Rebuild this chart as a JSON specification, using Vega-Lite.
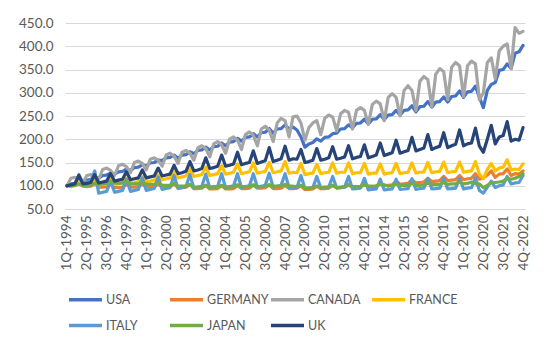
{
"$schema": "https://vega.github.io/schema/vega-lite/v6.json",
"width": 460, "height": 186,
"autosize": {"type": "none"},
"padding": {"left": 65, "top": 23, "right": 25, "bottom": 144},
"background": "white",
"data": {"values": [
{"q":"1Q-1994","USA":100,"GERMANY":100,"CANADA":100,"FRANCE":100,"ITALY":100,"JAPAN":100,"UK":100},
{"q":"2Q-1994","USA":104,"GERMANY":99,"CANADA":116,"FRANCE":101,"ITALY":102,"JAPAN":100,"UK":102},
{"q":"3Q-1994","USA":105,"GERMANY":100,"CANADA":118,"FRANCE":102,"ITALY":104,"JAPAN":101,"UK":104},
{"q":"4Q-1994","USA":109,"GERMANY":106,"CANADA":114,"FRANCE":110,"ITALY":124,"JAPAN":104,"UK":122},
{"q":"1Q-1995","USA":107,"GERMANY":99,"CANADA":106,"FRANCE":101,"ITALY":106,"JAPAN":101,"UK":104},
{"q":"2Q-1995","USA":112,"GERMANY":98,"CANADA":122,"FRANCE":102,"ITALY":108,"JAPAN":101,"UK":105},
{"q":"3Q-1995","USA":113,"GERMANY":99,"CANADA":124,"FRANCE":103,"ITALY":110,"JAPAN":102,"UK":107},
{"q":"4Q-1995","USA":117,"GERMANY":105,"CANADA":120,"FRANCE":112,"ITALY":132,"JAPAN":105,"UK":124},
{"q":"1Q-1996","USA":117,"GERMANY":97,"CANADA":114,"FRANCE":102,"ITALY":84,"JAPAN":103,"UK":106},
{"q":"2Q-1996","USA":122,"GERMANY":97,"CANADA":135,"FRANCE":103,"ITALY":86,"JAPAN":104,"UK":108},
{"q":"3Q-1996","USA":123,"GERMANY":98,"CANADA":138,"FRANCE":104,"ITALY":88,"JAPAN":105,"UK":110},
{"q":"4Q-1996","USA":127,"GERMANY":104,"CANADA":133,"FRANCE":114,"ITALY":110,"JAPAN":109,"UK":126},
{"q":"1Q-1997","USA":125,"GERMANY":96,"CANADA":122,"FRANCE":103,"ITALY":86,"JAPAN":106,"UK":110},
{"q":"2Q-1997","USA":130,"GERMANY":96,"CANADA":143,"FRANCE":104,"ITALY":88,"JAPAN":105,"UK":112},
{"q":"3Q-1997","USA":131,"GERMANY":97,"CANADA":146,"FRANCE":106,"ITALY":90,"JAPAN":106,"UK":114},
{"q":"4Q-1997","USA":136,"GERMANY":103,"CANADA":141,"FRANCE":116,"ITALY":114,"JAPAN":110,"UK":130},
{"q":"1Q-1998","USA":133,"GERMANY":97,"CANADA":128,"FRANCE":106,"ITALY":88,"JAPAN":104,"UK":113},
{"q":"2Q-1998","USA":139,"GERMANY":97,"CANADA":150,"FRANCE":107,"ITALY":90,"JAPAN":104,"UK":115},
{"q":"3Q-1998","USA":140,"GERMANY":98,"CANADA":153,"FRANCE":109,"ITALY":92,"JAPAN":104,"UK":117},
{"q":"4Q-1998","USA":145,"GERMANY":104,"CANADA":148,"FRANCE":120,"ITALY":117,"JAPAN":108,"UK":134},
{"q":"1Q-1999","USA":143,"GERMANY":97,"CANADA":134,"FRANCE":109,"ITALY":90,"JAPAN":103,"UK":117},
{"q":"2Q-1999","USA":149,"GERMANY":97,"CANADA":157,"FRANCE":110,"ITALY":92,"JAPAN":103,"UK":119},
{"q":"3Q-1999","USA":150,"GERMANY":98,"CANADA":160,"FRANCE":112,"ITALY":94,"JAPAN":103,"UK":121},
{"q":"4Q-1999","USA":155,"GERMANY":104,"CANADA":155,"FRANCE":124,"ITALY":119,"JAPAN":107,"UK":138},
{"q":"1Q-2000","USA":154,"GERMANY":97,"CANADA":142,"FRANCE":113,"ITALY":92,"JAPAN":101,"UK":121},
{"q":"2Q-2000","USA":160,"GERMANY":97,"CANADA":166,"FRANCE":115,"ITALY":94,"JAPAN":101,"UK":123},
{"q":"3Q-2000","USA":161,"GERMANY":98,"CANADA":170,"FRANCE":117,"ITALY":96,"JAPAN":101,"UK":125},
{"q":"4Q-2000","USA":166,"GERMANY":104,"CANADA":164,"FRANCE":130,"ITALY":122,"JAPAN":105,"UK":144},
{"q":"1Q-2001","USA":159,"GERMANY":96,"CANADA":148,"FRANCE":117,"ITALY":94,"JAPAN":99,"UK":126},
{"q":"2Q-2001","USA":166,"GERMANY":96,"CANADA":172,"FRANCE":119,"ITALY":96,"JAPAN":99,"UK":128},
{"q":"3Q-2001","USA":167,"GERMANY":97,"CANADA":176,"FRANCE":121,"ITALY":98,"JAPAN":99,"UK":131},
{"q":"4Q-2001","USA":173,"GERMANY":103,"CANADA":170,"FRANCE":136,"ITALY":124,"JAPAN":103,"UK":152},
{"q":"1Q-2002","USA":169,"GERMANY":94,"CANADA":155,"FRANCE":120,"ITALY":95,"JAPAN":97,"UK":132},
{"q":"2Q-2002","USA":176,"GERMANY":94,"CANADA":182,"FRANCE":122,"ITALY":97,"JAPAN":97,"UK":134},
{"q":"3Q-2002","USA":177,"GERMANY":95,"CANADA":186,"FRANCE":124,"ITALY":99,"JAPAN":97,"UK":137},
{"q":"4Q-2002","USA":183,"GERMANY":101,"CANADA":180,"FRANCE":140,"ITALY":125,"JAPAN":101,"UK":160},
{"q":"1Q-2003","USA":177,"GERMANY":93,"CANADA":162,"FRANCE":122,"ITALY":96,"JAPAN":97,"UK":137},
{"q":"2Q-2003","USA":184,"GERMANY":93,"CANADA":190,"FRANCE":124,"ITALY":98,"JAPAN":97,"UK":139},
{"q":"3Q-2003","USA":185,"GERMANY":94,"CANADA":195,"FRANCE":126,"ITALY":99,"JAPAN":97,"UK":142},
{"q":"4Q-2003","USA":192,"GERMANY":100,"CANADA":188,"FRANCE":143,"ITALY":126,"JAPAN":101,"UK":166},
{"q":"1Q-2004","USA":186,"GERMANY":93,"CANADA":170,"FRANCE":125,"ITALY":96,"JAPAN":97,"UK":142},
{"q":"2Q-2004","USA":194,"GERMANY":93,"CANADA":200,"FRANCE":127,"ITALY":98,"JAPAN":97,"UK":144},
{"q":"3Q-2004","USA":195,"GERMANY":94,"CANADA":205,"FRANCE":129,"ITALY":100,"JAPAN":98,"UK":147},
{"q":"4Q-2004","USA":202,"GERMANY":100,"CANADA":198,"FRANCE":147,"ITALY":126,"JAPAN":102,"UK":172},
{"q":"1Q-2005","USA":196,"GERMANY":94,"CANADA":178,"FRANCE":126,"ITALY":96,"JAPAN":98,"UK":145},
{"q":"2Q-2005","USA":204,"GERMANY":94,"CANADA":210,"FRANCE":128,"ITALY":98,"JAPAN":98,"UK":148},
{"q":"3Q-2005","USA":205,"GERMANY":95,"CANADA":216,"FRANCE":130,"ITALY":100,"JAPAN":98,"UK":150},
{"q":"4Q-2005","USA":212,"GERMANY":101,"CANADA":208,"FRANCE":149,"ITALY":126,"JAPAN":102,"UK":175},
{"q":"1Q-2006","USA":205,"GERMANY":95,"CANADA":186,"FRANCE":127,"ITALY":97,"JAPAN":98,"UK":148},
{"q":"2Q-2006","USA":214,"GERMANY":95,"CANADA":222,"FRANCE":129,"ITALY":99,"JAPAN":98,"UK":151},
{"q":"3Q-2006","USA":215,"GERMANY":96,"CANADA":228,"FRANCE":131,"ITALY":101,"JAPAN":98,"UK":154},
{"q":"4Q-2006","USA":223,"GERMANY":102,"CANADA":220,"FRANCE":150,"ITALY":127,"JAPAN":102,"UK":182},
{"q":"1Q-2007","USA":213,"GERMANY":94,"CANADA":195,"FRANCE":128,"ITALY":97,"JAPAN":99,"UK":152},
{"q":"2Q-2007","USA":222,"GERMANY":94,"CANADA":235,"FRANCE":130,"ITALY":99,"JAPAN":99,"UK":155},
{"q":"3Q-2007","USA":223,"GERMANY":95,"CANADA":245,"FRANCE":132,"ITALY":101,"JAPAN":99,"UK":158},
{"q":"4Q-2007","USA":231,"GERMANY":101,"CANADA":240,"FRANCE":152,"ITALY":126,"JAPAN":103,"UK":185},
{"q":"1Q-2008","USA":222,"GERMANY":94,"CANADA":205,"FRANCE":127,"ITALY":96,"JAPAN":99,"UK":155},
{"q":"2Q-2008","USA":226,"GERMANY":94,"CANADA":248,"FRANCE":129,"ITALY":97,"JAPAN":99,"UK":158},
{"q":"3Q-2008","USA":220,"GERMANY":95,"CANADA":250,"FRANCE":128,"ITALY":96,"JAPAN":98,"UK":157},
{"q":"4Q-2008","USA":205,"GERMANY":100,"CANADA":235,"FRANCE":148,"ITALY":122,"JAPAN":101,"UK":178},
{"q":"1Q-2009","USA":183,"GERMANY":92,"CANADA":198,"FRANCE":124,"ITALY":94,"JAPAN":95,"UK":150},
{"q":"2Q-2009","USA":190,"GERMANY":92,"CANADA":225,"FRANCE":126,"ITALY":95,"JAPAN":95,"UK":152},
{"q":"3Q-2009","USA":193,"GERMANY":93,"CANADA":235,"FRANCE":127,"ITALY":96,"JAPAN":96,"UK":155},
{"q":"4Q-2009","USA":201,"GERMANY":99,"CANADA":240,"FRANCE":146,"ITALY":120,"JAPAN":99,"UK":180},
{"q":"1Q-2010","USA":196,"GERMANY":94,"CANADA":210,"FRANCE":126,"ITALY":95,"JAPAN":96,"UK":155},
{"q":"2Q-2010","USA":204,"GERMANY":94,"CANADA":245,"FRANCE":128,"ITALY":96,"JAPAN":97,"UK":157},
{"q":"3Q-2010","USA":205,"GERMANY":95,"CANADA":252,"FRANCE":129,"ITALY":97,"JAPAN":97,"UK":160},
{"q":"4Q-2010","USA":212,"GERMANY":101,"CANADA":248,"FRANCE":149,"ITALY":120,"JAPAN":101,"UK":184},
{"q":"1Q-2011","USA":213,"GERMANY":96,"CANADA":218,"FRANCE":127,"ITALY":95,"JAPAN":96,"UK":157},
{"q":"2Q-2011","USA":222,"GERMANY":96,"CANADA":255,"FRANCE":129,"ITALY":96,"JAPAN":97,"UK":159},
{"q":"3Q-2011","USA":223,"GERMANY":97,"CANADA":262,"FRANCE":129,"ITALY":97,"JAPAN":98,"UK":162},
{"q":"4Q-2011","USA":231,"GERMANY":103,"CANADA":258,"FRANCE":149,"ITALY":120,"JAPAN":101,"UK":186},
{"q":"1Q-2012","USA":225,"GERMANY":97,"CANADA":222,"FRANCE":126,"ITALY":93,"JAPAN":98,"UK":158},
{"q":"2Q-2012","USA":234,"GERMANY":97,"CANADA":262,"FRANCE":128,"ITALY":94,"JAPAN":98,"UK":161},
{"q":"3Q-2012","USA":235,"GERMANY":98,"CANADA":268,"FRANCE":128,"ITALY":95,"JAPAN":98,"UK":163},
{"q":"4Q-2012","USA":243,"GERMANY":104,"CANADA":262,"FRANCE":148,"ITALY":116,"JAPAN":102,"UK":188},
{"q":"1Q-2013","USA":233,"GERMANY":98,"CANADA":232,"FRANCE":125,"ITALY":91,"JAPAN":99,"UK":160},
{"q":"2Q-2013","USA":243,"GERMANY":98,"CANADA":275,"FRANCE":127,"ITALY":92,"JAPAN":99,"UK":163},
{"q":"3Q-2013","USA":244,"GERMANY":99,"CANADA":282,"FRANCE":127,"ITALY":93,"JAPAN":100,"UK":166},
{"q":"4Q-2013","USA":253,"GERMANY":105,"CANADA":276,"FRANCE":147,"ITALY":114,"JAPAN":104,"UK":192},
{"q":"1Q-2014","USA":242,"GERMANY":100,"CANADA":240,"FRANCE":125,"ITALY":91,"JAPAN":102,"UK":165},
{"q":"2Q-2014","USA":252,"GERMANY":101,"CANADA":290,"FRANCE":127,"ITALY":92,"JAPAN":99,"UK":168},
{"q":"3Q-2014","USA":253,"GERMANY":102,"CANADA":298,"FRANCE":128,"ITALY":93,"JAPAN":100,"UK":171},
{"q":"4Q-2014","USA":262,"GERMANY":110,"CANADA":290,"FRANCE":148,"ITALY":114,"JAPAN":104,"UK":198},
{"q":"1Q-2015","USA":252,"GERMANY":103,"CANADA":250,"FRANCE":126,"ITALY":92,"JAPAN":100,"UK":170},
{"q":"2Q-2015","USA":262,"GERMANY":104,"CANADA":305,"FRANCE":128,"ITALY":93,"JAPAN":101,"UK":173},
{"q":"3Q-2015","USA":263,"GERMANY":105,"CANADA":315,"FRANCE":129,"ITALY":94,"JAPAN":101,"UK":176},
{"q":"4Q-2015","USA":272,"GERMANY":113,"CANADA":305,"FRANCE":149,"ITALY":115,"JAPAN":105,"UK":204},
{"q":"1Q-2016","USA":259,"GERMANY":106,"CANADA":262,"FRANCE":127,"ITALY":92,"JAPAN":101,"UK":175},
{"q":"2Q-2016","USA":270,"GERMANY":107,"CANADA":325,"FRANCE":129,"ITALY":94,"JAPAN":101,"UK":178},
{"q":"3Q-2016","USA":271,"GERMANY":108,"CANADA":335,"FRANCE":130,"ITALY":95,"JAPAN":102,"UK":181},
{"q":"4Q-2016","USA":281,"GERMANY":116,"CANADA":328,"FRANCE":150,"ITALY":116,"JAPAN":106,"UK":210},
{"q":"1Q-2017","USA":269,"GERMANY":109,"CANADA":270,"FRANCE":128,"ITALY":93,"JAPAN":102,"UK":178},
{"q":"2Q-2017","USA":280,"GERMANY":110,"CANADA":340,"FRANCE":130,"ITALY":94,"JAPAN":103,"UK":182},
{"q":"3Q-2017","USA":281,"GERMANY":111,"CANADA":352,"FRANCE":131,"ITALY":95,"JAPAN":103,"UK":185},
{"q":"4Q-2017","USA":291,"GERMANY":120,"CANADA":345,"FRANCE":151,"ITALY":116,"JAPAN":107,"UK":214},
{"q":"1Q-2018","USA":280,"GERMANY":111,"CANADA":285,"FRANCE":128,"ITALY":93,"JAPAN":103,"UK":182},
{"q":"2Q-2018","USA":292,"GERMANY":112,"CANADA":355,"FRANCE":130,"ITALY":94,"JAPAN":104,"UK":186},
{"q":"3Q-2018","USA":293,"GERMANY":113,"CANADA":365,"FRANCE":131,"ITALY":95,"JAPAN":104,"UK":189},
{"q":"4Q-2018","USA":304,"GERMANY":122,"CANADA":358,"FRANCE":151,"ITALY":116,"JAPAN":108,"UK":220},
{"q":"1Q-2019","USA":290,"GERMANY":113,"CANADA":292,"FRANCE":129,"ITALY":93,"JAPAN":104,"UK":186},
{"q":"2Q-2019","USA":302,"GERMANY":115,"CANADA":358,"FRANCE":131,"ITALY":95,"JAPAN":105,"UK":190},
{"q":"3Q-2019","USA":303,"GERMANY":116,"CANADA":368,"FRANCE":132,"ITALY":96,"JAPAN":108,"UK":192},
{"q":"4Q-2019","USA":314,"GERMANY":126,"CANADA":362,"FRANCE":152,"ITALY":117,"JAPAN":104,"UK":224},
{"q":"1Q-2020","USA":290,"GERMANY":114,"CANADA":285,"FRANCE":125,"ITALY":90,"JAPAN":104,"UK":185},
{"q":"2Q-2020","USA":268,"GERMANY":117,"CANADA":300,"FRANCE":115,"ITALY":84,"JAPAN":96,"UK":172},
{"q":"3Q-2020","USA":305,"GERMANY":123,"CANADA":365,"FRANCE":135,"ITALY":97,"JAPAN":101,"UK":200},
{"q":"4Q-2020","USA":318,"GERMANY":132,"CANADA":375,"FRANCE":148,"ITALY":110,"JAPAN":106,"UK":230},
{"q":"1Q-2021","USA":322,"GERMANY":118,"CANADA":330,"FRANCE":132,"ITALY":96,"JAPAN":107,"UK":190},
{"q":"2Q-2021","USA":348,"GERMANY":125,"CANADA":390,"FRANCE":138,"ITALY":100,"JAPAN":108,"UK":205},
{"q":"3Q-2021","USA":350,"GERMANY":126,"CANADA":400,"FRANCE":140,"ITALY":102,"JAPAN":110,"UK":208},
{"q":"4Q-2021","USA":362,"GERMANY":136,"CANADA":405,"FRANCE":156,"ITALY":120,"JAPAN":116,"UK":238},
{"q":"1Q-2022","USA":352,"GERMANY":122,"CANADA":352,"FRANCE":134,"ITALY":104,"JAPAN":114,"UK":196},
{"q":"2Q-2022","USA":385,"GERMANY":126,"CANADA":440,"FRANCE":136,"ITALY":106,"JAPAN":116,"UK":200},
{"q":"3Q-2022","USA":388,"GERMANY":125,"CANADA":428,"FRANCE":135,"ITALY":107,"JAPAN":120,"UK":198},
{"q":"4Q-2022","USA":402,"GERMANY":132,"CANADA":432,"FRANCE":147,"ITALY":122,"JAPAN":126,"UK":225}
]},
"transform": [{"fold": ["USA","GERMANY","CANADA","FRANCE","ITALY","JAPAN","UK"], "as": ["country","value"]}],
"encoding": {
  "x": {"field": "q", "type": "ordinal", "sort": null,
        "scale": {"type": "point", "padding": 0.5},
        "axis": {"title": null, "values": ["1Q-1994","2Q-1995","3Q-1996","4Q-1997","1Q-1999","2Q-2000","3Q-2001","4Q-2002","1Q-2004","2Q-2005","3Q-2006","4Q-2007","1Q-2009","2Q-2010","3Q-2011","4Q-2012","1Q-2014","2Q-2015","3Q-2016","4Q-2017","1Q-2019","2Q-2020","3Q-2021","4Q-2022"],
                 "labelAngle": -90, "labelFontSize": 13.5, "labelColor": "#595959", "labelFont": "Lato",
                 "ticks": false, "domainColor": "#D9D9D9", "domainWidth": 1, "labelPadding": 6, "grid": false}},
  "y": {"field": "value", "type": "quantitative",
        "scale": {"domain": [50, 450], "nice": false, "zero": false},
        "axis": {"title": null, "values": [50,100,150,200,250,300,350,400,450], "format": ".1f",
                 "labelFontSize": 13.5, "labelColor": "#595959", "labelFont": "Lato",
                 "ticks": false, "domain": false, "gridColor": "#D9D9D9", "gridWidth": 1, "labelPadding": 12}},
  "color": {"field": "country", "type": "nominal",
            "sort": ["USA","GERMANY","CANADA","FRANCE","ITALY","JAPAN","UK"],
            "scale": {"domain": ["USA","GERMANY","CANADA","FRANCE","ITALY","JAPAN","UK"],
                      "range": ["#4472C4","#ED7D31","#A5A5A5","#FFC000","#5B9BD5","#70AD47","#264478"]},
            "legend": {"orient": "none", "legendX": 2, "legendY": 258, "direction": "horizontal", "columns": 4,
                       "title": null, "symbolType": "stroke", "symbolSize": 1089, "symbolStrokeWidth": 3.5,
                       "labelFontSize": 12.5, "labelColor": "#595959", "labelFont": "Lato", "labelOffset": 2,
                       "columnPadding": -7, "rowPadding": -5, "gridAlign": "all", "labelLimit": 200}}
},
"layer": [
  {"transform": [{"filter": "datum.country === 'USA'"}], "mark": {"type": "line", "strokeWidth": 3.2, "strokeJoin": "round", "strokeCap": "round"}},
  {"transform": [{"filter": "datum.country === 'GERMANY'"}], "mark": {"type": "line", "strokeWidth": 3.2, "strokeJoin": "round", "strokeCap": "round"}},
  {"transform": [{"filter": "datum.country === 'CANADA'"}], "mark": {"type": "line", "strokeWidth": 3.2, "strokeJoin": "round", "strokeCap": "round"}},
  {"transform": [{"filter": "datum.country === 'FRANCE'"}], "mark": {"type": "line", "strokeWidth": 3.2, "strokeJoin": "round", "strokeCap": "round"}},
  {"transform": [{"filter": "datum.country === 'ITALY'"}], "mark": {"type": "line", "strokeWidth": 3.2, "strokeJoin": "round", "strokeCap": "round"}},
  {"transform": [{"filter": "datum.country === 'JAPAN'"}], "mark": {"type": "line", "strokeWidth": 3.2, "strokeJoin": "round", "strokeCap": "round"}},
  {"transform": [{"filter": "datum.country === 'UK'"}], "mark": {"type": "line", "strokeWidth": 3.2, "strokeJoin": "round", "strokeCap": "round"}}
],
"config": {"view": {"stroke": null}, "font": "Lato"}
}
